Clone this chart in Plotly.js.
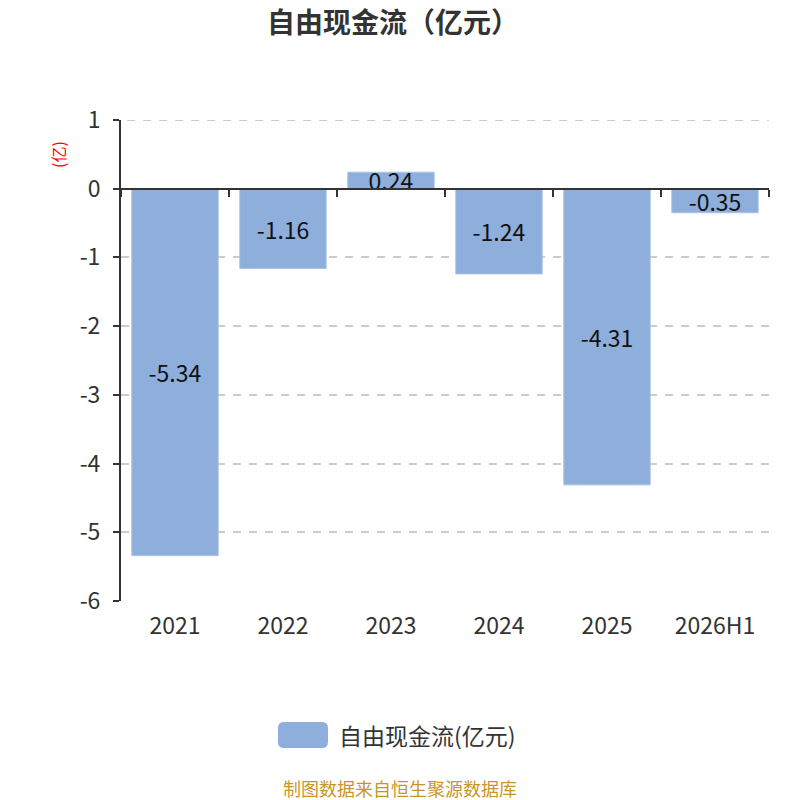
<!DOCTYPE html>
<html>
<head>
<meta charset="utf-8">
<script src="https://cdn.plot.ly/plotly-3.0.1.min.js"></script>
<style>
  html, body { margin: 0; padding: 0; background: #fff; }
  #chart { width: 800px; height: 800px; }
</style>
</head>
<body>
<div id="chart"></div>
<script>
// data
const PERIODS = ["2021", "2022", "2023", "2024", "2025", "2026H1"];
const FCF = [-5.34, -1.16, 0.24, -1.24, -4.31, -0.35];
const Y_TICKS = [1, 0, -1, -2, -3, -4, -5, -6];

const SERIES_NAME = "自由现金流(亿元)";
const TITLE = "自由现金流（亿元）";
const UNIT = "(亿)";
const SOURCE = "制图数据来自恒生聚源数据库";

const FONT = "'Noto Sans CJK SC', 'Noto Sans', sans-serif";
const BAR_COLOR = "#8eaedb";
const GRID = { color: "#cccccc", width: 2, dash: "8px,8px" };

// plot area in pixels (used to place legend / footnote in paper coords)
const PLOT = { l: 121, r: 769, t: 120, b: 601 };
const pw = PLOT.r - PLOT.l;
const ph = PLOT.b - PLOT.t;
const px = (x) => (x - PLOT.l) / pw;
const py = (y) => (PLOT.b - y) / ph;

const bars = {
    type: "bar",
    x: PERIODS,
    y: FCF,
    name: SERIES_NAME,
    marker: { color: BAR_COLOR, line: { color: "#a9c2e6", width: 1 } },
    text: FCF.map((v) => String(v)),
    textposition: "inside",
    insidetextanchor: "middle",
    constraintext: "none",
    textangle: 0,
    textfont: { size: 23, color: "#111" },
    hoverinfo: "skip",
    showlegend: false,
};

// invisible trace so the zero-line axis (x2) gets drawn
const zeroAxis = {
    type: "scatter",
    x: PERIODS,
    y: PERIODS.map(() => 0),
    xaxis: "x2",
    mode: "markers",
    marker: { opacity: 0 },
    showlegend: false,
    hoverinfo: "skip",
};

function roundedRect(x0, y0, x1, y1, r) {
    const X0 = px(x0), X1 = px(x1), Y0 = py(y0), Y1 = py(y1);
    const rx = r / pw, ry = r / ph;
    // Y0 is top (higher paper y), Y1 is bottom
    return [
        "M", X0 + rx, Y0,
        "L", X1 - rx, Y0,
        "Q", X1, Y0, X1, Y0 - ry,
        "L", X1, Y1 + ry,
        "Q", X1, Y1, X1 - rx, Y1,
        "L", X0 + rx, Y1,
        "Q", X0, Y1, X0, Y1 + ry,
        "L", X0, Y0 - ry,
        "Q", X0, Y0, X0 + rx, Y0,
        "Z",
    ].join(" ");
}

const layout = {
    width: 800,
    height: 800,
    paper_bgcolor: "#fff",
    plot_bgcolor: "#fff",
    font: { family: FONT, color: "#333", size: 22 },
    margin: { l: PLOT.l, r: 800 - PLOT.r, t: PLOT.t, b: 800 - PLOT.b },
    bargap: 0.2,
    showlegend: false,
    title: {
        text: "<b>" + TITLE + "</b>",
        font: { size: 28, color: "#333", family: FONT },
        x: 393 / 800, xref: "container", xanchor: "center",
        y: 1 - 23 / 800, yref: "container", yanchor: "middle",
    },
    xaxis: {
        type: "category",
        showline: false,
        showgrid: false,
        zeroline: false,
        ticks: "",
        ticklabelstandoff: 9,
        tickfont: { size: 23, color: "#333" },
        fixedrange: true,
    },
    xaxis2: {
        type: "category",
        overlaying: "x",
        matches: "x",
        anchor: "free",
        position: 6 / 7,
        side: "bottom",
        showline: true,
        linecolor: "#333",
        linewidth: 2,
        ticks: "outside",
        tickson: "boundaries",
        ticklen: 7,
        tickwidth: 2,
        tickcolor: "#333",
        showticklabels: false,
        showgrid: false,
        zeroline: false,
    },
    yaxis: {
        range: [-6, 1],
        tickvals: Y_TICKS,
        ticktext: Y_TICKS.map(String),
        showline: true,
        linecolor: "#333",
        linewidth: 2,
        ticks: "outside",
        ticklen: 6,
        tickwidth: 2,
        tickcolor: "#333",
        ticklabelstandoff: 8,
        showgrid: true,
        gridcolor: GRID.color,
        griddash: GRID.dash,
        gridwidth: GRID.width,
        zeroline: false,
        tickfont: { size: 23, color: "#333" },
        fixedrange: true,
    },
    shapes: [
        // top gridline (at the range edge Plotly skips it)
        {
            type: "line", layer: "below",
            xref: "paper", yref: "y",
            x0: px(127), x1: 1, y0: Y_TICKS[0], y1: Y_TICKS[0],
            line: { color: GRID.color, width: GRID.width, dash: GRID.dash },
        },
        // legend swatch (rounded rectangle)
        {
            type: "path",
            xref: "paper", yref: "paper",
            path: roundedRect(278, 722, 328, 748, 6),
            fillcolor: BAR_COLOR,
            line: { width: 0 },
        },
    ],
    annotations: [
        {
            text: SERIES_NAME,
            xref: "paper", yref: "paper",
            x: px(337), y: py(735),
            xanchor: "left", yanchor: "middle",
            showarrow: false,
            font: { size: 23, color: "#333" },
        },
        {
            text: UNIT,
            xref: "paper", yref: "paper",
            x: px(58), y: py(155),
            xanchor: "center", yanchor: "middle",
            textangle: -90,
            showarrow: false,
            font: { size: 16, color: "#ff0000" },
        },
        {
            text: SOURCE,
            xref: "paper", yref: "paper",
            x: px(400), y: py(788),
            xanchor: "center", yanchor: "middle",
            showarrow: false,
            font: { size: 18, color: "#c9952b" },
        },
    ],
};

Plotly.newPlot("chart", [bars, zeroAxis], layout, {
    displayModeBar: false, staticPlot: true,
});
</script>
</body>
</html>
